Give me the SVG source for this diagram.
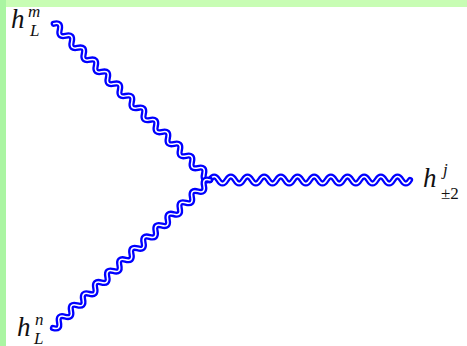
<svg xmlns="http://www.w3.org/2000/svg" width="467" height="346" viewBox="0 0 467 346">
<style>
.w{fill:none;stroke-linecap:round;stroke-linejoin:round}
.wb{stroke:#0000ff;stroke-width:6.2}
.ww{stroke:#ffffff;stroke-width:1.5}
.t{font-family:"Liberation Serif","DejaVu Serif",serif;fill:#111111}
.i{font-style:italic}
.h{font-size:27px}
.s{font-size:17px}
</style>
<defs>
<path id="wr" d="M0,0 Q4.17,-7 8.33,0 T16.67,0 T25,0 T33.33,0 T41.67,0 T50,0 T58.33,0 T66.67,0 T75,0 T83.33,0 T91.67,0 T100,0 T108.33,0 T116.67,0 T125,0 T133.33,0 T141.67,0 T150,0 T158.33,0 T166.67,0 T175,0 T183.33,0 T191.67,0 T200,0"/>
<path id="wt" d="M0,0 Q4.25,-7 8.5,0 T17,0 T25.5,0 T34,0 T42.5,0 T51,0 T59.5,0 T68,0 T76.5,0 T85,0 T93.5,0 T102,0 T110.5,0 T119,0 T127.5,0 T136,0 T144.5,0 T153,0 T161.5,0 T170,0 T178.5,0 T187,0 T195.5,0 T204,0 T212.5,0 T221,0"/>
<path id="wl" d="M0,0 Q4.15,7 8.3,0 T16.6,0 T24.9,0 T33.2,0 T41.5,0 T49.8,0 T58.1,0 T66.4,0 T74.7,0 T83,0 T91.3,0 T99.6,0 T107.9,0 T116.2,0 T124.5,0 T132.8,0 T141.1,0 T149.4,0 T157.7,0 T166,0 T174.3,0 T182.6,0 T190.9,0 T199.2,0 T207.5,0 T215.8,0"/>
</defs>
<rect x="0" y="0" width="467" height="346" fill="#ffffff"/>
<rect x="0" y="0" width="467" height="7" fill="#c8fdb4"/>
<rect x="0" y="0" width="6" height="346" fill="#aaf5a2"/>
<g id="connectors">
<g transform="translate(210,180)">
<use href="#wr" class="w wb"/><use href="#wr" class="w ww"/>
</g>
<g transform="translate(210,180) rotate(-135)">
<use href="#wt" class="w wb"/><use href="#wt" class="w ww"/>
</g>
<g transform="translate(210,180) rotate(136.7)">
<use href="#wl" class="w wb"/><use href="#wl" class="w ww"/>
</g>
</g>
<g id="node-hm">
<text class="t i h" x="11" y="28">h</text>
<text class="t i s" x="28" y="17">m</text>
<text class="t i s" x="30" y="36">L</text>
</g>
<g id="node-hn">
<text class="t i h" x="17" y="336">h</text>
<text class="t i s" x="35" y="325">n</text>
<text class="t i s" x="34" y="344">L</text>
</g>
<g id="node-hj">
<text class="t i h" x="423" y="187">h</text>
<text class="t i s" x="443" y="175">j</text>
<text class="t s" x="441" y="199">±2</text>
</g>
</svg>
